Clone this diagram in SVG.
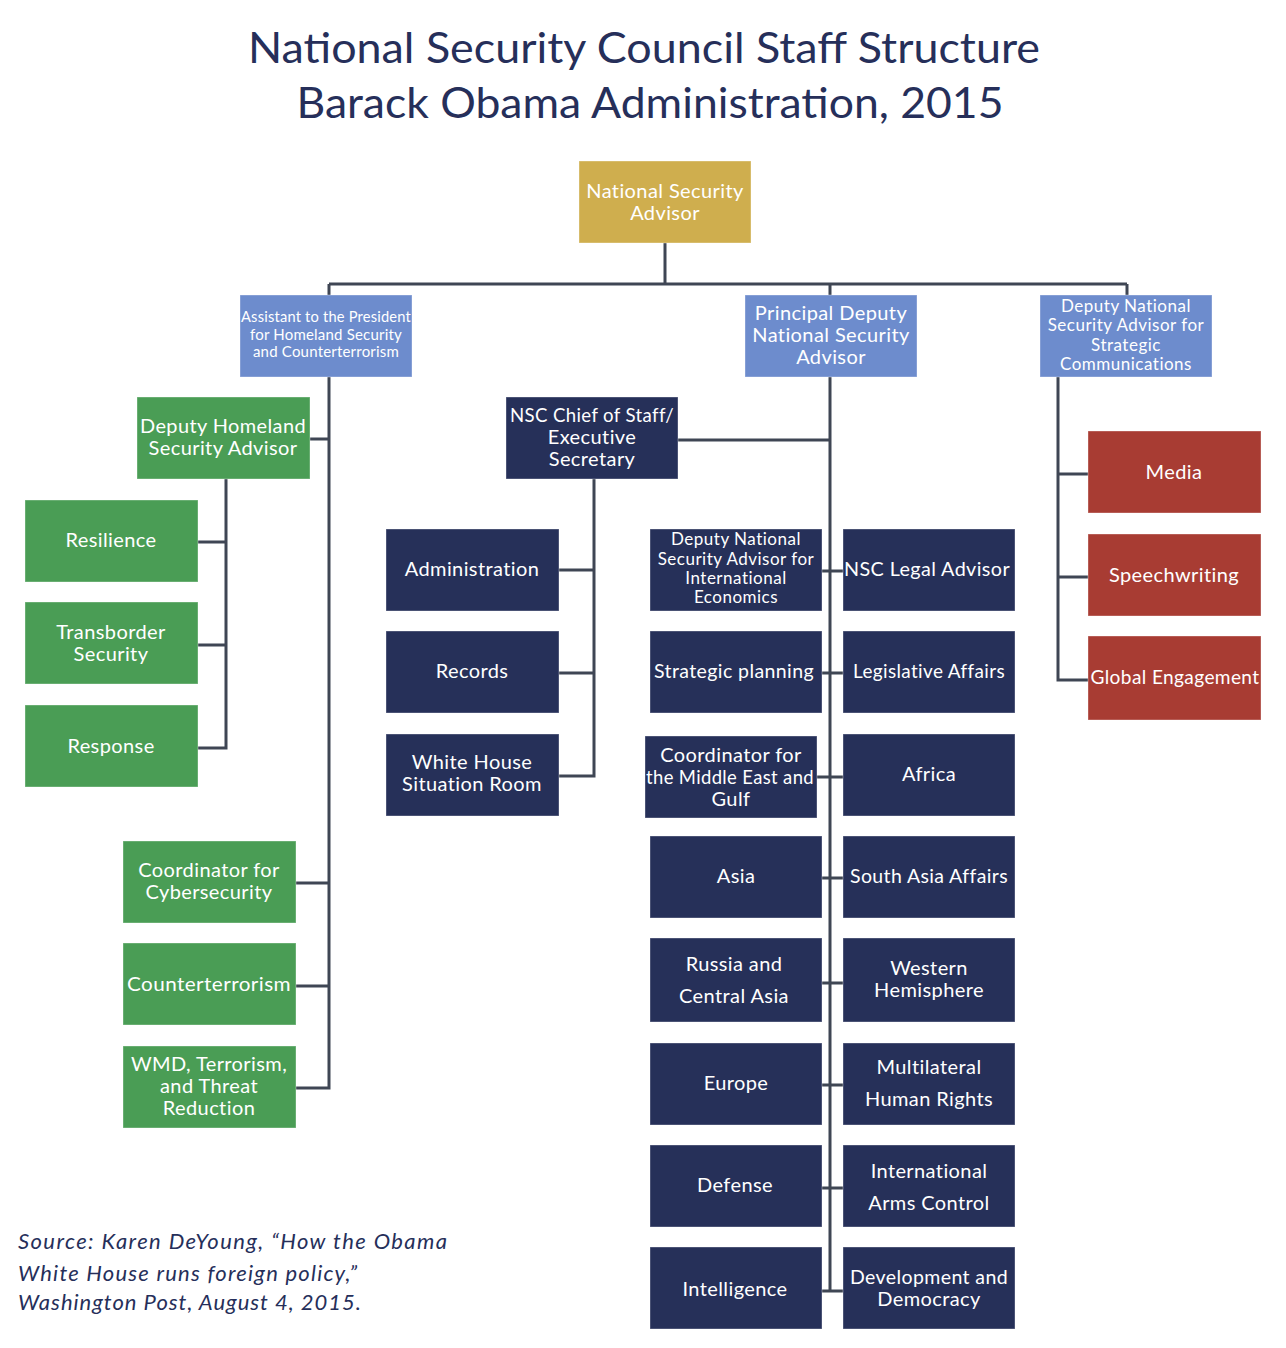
<svg xmlns="http://www.w3.org/2000/svg" width="1286" height="1348" viewBox="0 0 1286 1348">
<style>
.title{font-family:Lato,"Open Sans",sans-serif;font-size:42px;fill:#262f5a;text-anchor:middle}
.src{font-family:Lato,"Open Sans",sans-serif;font-style:italic;font-size:22px;fill:#262f5a}
.box{stroke:#ffffff;stroke-opacity:0.35;stroke-width:1}
.gold{fill:#cfae4e}.blue{fill:#6d8ccd}.navy{fill:#263059}.green{fill:#4a9d55}.red{fill:#a83c33}
.t{font-family:Lato,"Open Sans",sans-serif;font-size:20px;letter-spacing:0.4px;fill:#ffffff;text-anchor:middle}
.s{font-size:17px;letter-spacing:0.5px}.xs{font-size:15px;letter-spacing:0.2px}
.c{fill:none;stroke:#3f4654;stroke-width:3}
</style>
<rect width="1286" height="1348" fill="#ffffff"/>
<text class="title" x="644" y="63" textLength="792" lengthAdjust="spacingAndGlyphs">National Security Council Staff Structure</text>
<text class="title" x="650" y="118" textLength="707" lengthAdjust="spacingAndGlyphs">Barack Obama Administration, 2015</text>

<g id="connectors">
<path class="c" d="M665 243V284M329 284H1127M329 284V295M830 284V295M1127 284V295"/>
<path class="c" d="M329 377V1088H296M329 439H310M329 883H296M329 986H296"/>
<path class="c" d="M226 479V748H198M226 542H198M226 645H198"/>
<path class="c" d="M830 377V1291M678 440H830"/>
<path class="c" d="M594 479V776H559M594 570H559M594 673H559"/>
<path class="c" d="M822 571H843M822 673H843M817 777H843M822 878H843M822 983H843M822 1085H843M822 1188H843M822 1291H843"/>
<path class="c" d="M1058 377V680H1088M1058 474H1088M1058 577H1088"/>
</g>

<g id="nsa"><rect class="box gold" x="579" y="161" width="172" height="82"/><text class="t" x="665" y="198">National Security</text><text class="t" x="665" y="220">Advisor</text></g>

<g id="asst-homeland"><rect class="box blue" x="240" y="295" width="172" height="82"/><text class="t xs" x="326" y="322" textLength="170" lengthAdjust="spacingAndGlyphs">Assistant to the President</text><text class="t xs" x="326" y="340">for Homeland Security</text><text class="t xs" x="326" y="357">and Counterterrorism</text></g>
<g id="principal-deputy"><rect class="box blue" x="745" y="295" width="172" height="82"/><text class="t" x="831" y="320">Principal Deputy</text><text class="t" x="831" y="342">National Security</text><text class="t" x="831" y="364">Advisor</text></g>
<g id="deputy-stratcomm"><rect class="box blue" x="1040" y="295" width="172" height="82"/><text class="t s" x="1126" y="312">Deputy National</text><text class="t s" x="1126" y="331">Security Advisor for</text><text class="t s" x="1126" y="351">Strategic</text><text class="t s" x="1126" y="370">Communications</text></g>

<g id="deputy-hsa"><rect class="box green" x="137" y="397" width="173" height="82"/><text class="t" x="223" y="433" textLength="166" lengthAdjust="spacingAndGlyphs">Deputy Homeland</text><text class="t" x="223" y="455">Security Advisor</text></g>
<g id="resilience"><rect class="box green" x="25" y="500" width="173" height="82"/><text class="t" x="111" y="547">Resilience</text></g>
<g id="transborder"><rect class="box green" x="25" y="602" width="173" height="82"/><text class="t" x="111" y="639">Transborder</text><text class="t" x="111" y="661">Security</text></g>
<g id="response"><rect class="box green" x="25" y="705" width="173" height="82"/><text class="t" x="111" y="753">Response</text></g>
<g id="cyber"><rect class="box green" x="123" y="841" width="173" height="82"/><text class="t" x="209" y="877">Coordinator for</text><text class="t" x="209" y="899">Cybersecurity</text></g>
<g id="counterterrorism"><rect class="box green" x="123" y="943" width="173" height="82"/><text class="t" x="209" y="991" textLength="164" lengthAdjust="spacingAndGlyphs">Counterterrorism</text></g>
<g id="wmd"><rect class="box green" x="123" y="1046" width="173" height="82"/><text class="t" x="209" y="1071">WMD, Terrorism,</text><text class="t" x="209" y="1093">and Threat</text><text class="t" x="209" y="1115">Reduction</text></g>

<g id="chief-of-staff"><rect class="box navy" x="506" y="397" width="172" height="82"/><text class="t" x="592" y="422" textLength="164" lengthAdjust="spacingAndGlyphs">NSC Chief of Staff/</text><text class="t" x="592" y="444">Executive</text><text class="t" x="592" y="466">Secretary</text></g>
<g id="administration"><rect class="box navy" x="386" y="529" width="173" height="82"/><text class="t" x="472" y="576">Administration</text></g>
<g id="records"><rect class="box navy" x="386" y="631" width="173" height="82"/><text class="t" x="472" y="678">Records</text></g>
<g id="situation-room"><rect class="box navy" x="386" y="734" width="173" height="82"/><text class="t" x="472" y="769">White House</text><text class="t" x="472" y="791">Situation Room</text></g>

<g id="intl-econ"><rect class="box navy" x="650" y="529" width="172" height="82"/><text class="t s" x="736" y="545">Deputy National</text><text class="t s" x="736" y="565">Security Advisor for</text><text class="t s" x="736" y="584">International</text><text class="t s" x="736" y="603">Economics</text></g>
<g id="legal"><rect class="box navy" x="843" y="529" width="172" height="82"/><text class="t" x="927" y="576" textLength="166" lengthAdjust="spacingAndGlyphs">NSC Legal Advisor</text></g>
<g id="strategic-planning"><rect class="box navy" x="650" y="631" width="172" height="82"/><text class="t" x="734" y="678" textLength="160" lengthAdjust="spacingAndGlyphs">Strategic planning</text></g>
<g id="legislative"><rect class="box navy" x="843" y="631" width="172" height="82"/><text class="t" x="929" y="678" textLength="152" lengthAdjust="spacingAndGlyphs">Legislative Affairs</text></g>
<g id="middle-east"><rect class="box navy" x="645" y="736" width="172" height="82"/><text class="t" x="731" y="762">Coordinator for</text><text class="t" x="730" y="784" textLength="168" lengthAdjust="spacingAndGlyphs">the Middle East and</text><text class="t" x="731" y="806">Gulf</text></g>
<g id="africa"><rect class="box navy" x="843" y="734" width="172" height="82"/><text class="t" x="929" y="781">Africa</text></g>
<g id="asia"><rect class="box navy" x="650" y="836" width="172" height="82"/><text class="t" x="736" y="883">Asia</text></g>
<g id="south-asia"><rect class="box navy" x="843" y="836" width="172" height="82"/><text class="t" x="929" y="883" textLength="158" lengthAdjust="spacingAndGlyphs">South Asia Affairs</text></g>
<g id="russia"><rect class="box navy" x="650" y="938" width="172" height="84"/><text class="t" x="734" y="971">Russia and</text><text class="t" x="734" y="1003">Central Asia</text></g>
<g id="western-hemisphere"><rect class="box navy" x="843" y="938" width="172" height="84"/><text class="t" x="929" y="975">Western</text><text class="t" x="929" y="997">Hemisphere</text></g>
<g id="europe"><rect class="box navy" x="650" y="1043" width="172" height="82"/><text class="t" x="736" y="1090">Europe</text></g>
<g id="human-rights"><rect class="box navy" x="843" y="1043" width="172" height="82"/><text class="t" x="929" y="1074">Multilateral</text><text class="t" x="929" y="1106">Human Rights</text></g>
<g id="defense"><rect class="box navy" x="650" y="1145" width="172" height="82"/><text class="t" x="735" y="1192">Defense</text></g>
<g id="arms-control"><rect class="box navy" x="843" y="1145" width="172" height="82"/><text class="t" x="929" y="1178">International</text><text class="t" x="929" y="1210">Arms Control</text></g>
<g id="intelligence"><rect class="box navy" x="650" y="1247" width="172" height="82"/><text class="t" x="735" y="1296">Intelligence</text></g>
<g id="development"><rect class="box navy" x="843" y="1247" width="172" height="82"/><text class="t" x="929" y="1284" textLength="158" lengthAdjust="spacingAndGlyphs">Development and</text><text class="t" x="929" y="1306">Democracy</text></g>

<g id="media"><rect class="box red" x="1088" y="431" width="173" height="82"/><text class="t" x="1174" y="479">Media</text></g>
<g id="speechwriting"><rect class="box red" x="1088" y="534" width="173" height="82"/><text class="t" x="1174" y="582">Speechwriting</text></g>
<g id="global-engagement"><rect class="box red" x="1088" y="636" width="173" height="84"/><text class="t" x="1175" y="684" textLength="169" lengthAdjust="spacingAndGlyphs">Global Engagement</text></g>

<text class="src" x="18" y="1249" textLength="429" lengthAdjust="spacing">Source: Karen DeYoung, “How the Obama</text>
<text class="src" x="18" y="1281" textLength="339" lengthAdjust="spacing">White House runs foreign policy,”</text>
<text class="src" x="18" y="1310" textLength="343" lengthAdjust="spacing">Washington Post, August 4, 2015.</text>
</svg>
